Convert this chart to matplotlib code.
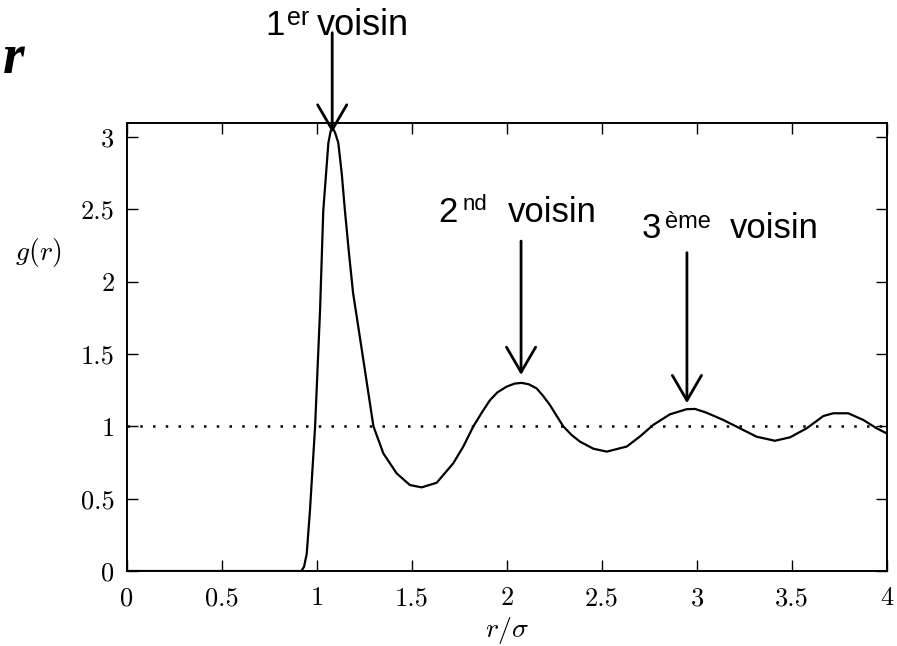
import matplotlib
matplotlib.use("Agg")
import matplotlib.pyplot as plt

# ---------------------------------------------------
# Data
# ---------------------------------------------------
r_vals = [0.0, 0.918, 0.932, 0.946, 0.963, 0.99, 1.016, 1.033, 1.06, 1.072,
          1.083, 1.095, 1.112, 1.13, 1.147, 1.168, 1.19, 1.21, 1.244, 1.297,
          1.349, 1.419, 1.489, 1.551, 1.63, 1.717, 1.77, 1.823, 1.87, 1.91,
          1.95, 1.998, 2.04, 2.077, 2.115, 2.156, 2.19, 2.226, 2.26, 2.296,
          2.34, 2.384, 2.455, 2.525, 2.63, 2.70, 2.77, 2.858, 2.945, 2.99,
          3.05, 3.138, 3.226, 3.314, 3.41, 3.49, 3.577, 3.665, 3.717, 3.796,
          3.875, 3.946, 4.0]
g_vals = [0.0, 0.0, 0.03, 0.12, 0.42, 1.0, 1.80, 2.49, 2.96, 3.04,
          3.06, 3.03, 2.96, 2.75, 2.49, 2.2, 1.92, 1.75, 1.458, 1.0,
          0.813, 0.675, 0.594, 0.578, 0.61, 0.744, 0.86, 1.0, 1.10, 1.18,
          1.235, 1.274, 1.295, 1.30, 1.29, 1.262, 1.21, 1.147, 1.075, 1.0,
          0.94, 0.894, 0.845, 0.825, 0.86, 0.93, 1.01, 1.083, 1.118, 1.12,
          1.094, 1.044, 0.986, 0.928, 0.90, 0.924, 0.986, 1.071, 1.09, 1.09,
          1.044, 0.986, 0.95]

ticks_x = [0, 0.5, 1, 1.5, 2, 2.5, 3, 3.5, 4]
ticks_x_labels = ["0", "0.5", "1", "1.5", "2", "2.5", "3", "3.5", "4"]
ticks_y = [0, 0.5, 1, 1.5, 2, 2.5, 3]
ticks_y_labels = ["0", "0.5", "1", "1.5", "2", "2.5", "3"]

# arrows: (tip r, tip g, tail r, tail g)
arrows = [
    (1.08, 3.03, 1.08, 3.72),
    (2.074, 1.355, 2.074, 2.28),
    (2.947, 1.16, 2.947, 2.20),
]

plt.rcParams["mathtext.fontset"] = "cm"

W, H = 897, 646
fig = plt.figure(figsize=(W / 100, H / 100), dpi=100)
ax = fig.add_axes([127 / W, (H - 571) / H, 760 / W, 448 / H])

ax.plot(r_vals, g_vals, color="black", lw=1.6)
ax.axhline(1, color="black", lw=1.8, linestyle=(0, (1, 4.1)))

ax.set_xlim(0, 4)
ax.set_ylim(0, 3.096)
ax.set_xticks(ticks_x)
ax.set_xticklabels(ticks_x_labels, fontfamily="cmr10", fontsize=19)
ax.set_yticks(ticks_y)
ax.set_yticklabels(ticks_y_labels, fontfamily="cmr10", fontsize=19)
ax.tick_params(direction="in", top=True, right=True, length=8, width=1)
ax.tick_params(axis="x", pad=11)
ax.tick_params(axis="y", pad=9)
for s in ax.spines.values():
    s.set_linewidth(1.4)

ax.set_xlabel(r"$r/\sigma$", fontsize=20)
ax.xaxis.set_label_coords(0.5, -0.098)
ax.set_ylabel(r"$g(r)$", fontsize=20, rotation=0, ha="center", va="center")
ax.yaxis.set_label_coords(-0.117, 0.71)

# ---------------------------------------------------
# Arrows and labels
# ---------------------------------------------------
for tx, ty, sx, sy in arrows:
    ax.annotate("", xy=(tx, ty), xytext=(sx, sy), annotation_clip=False,
                arrowprops=dict(arrowstyle="->, head_length=0.6, head_width=0.35",
                                lw=2, color="black", mutation_scale=30,
                                shrinkA=0, shrinkB=0))


def ftext(x, y, s, size, **kw):
    fig.text(x / W, 1 - y / H, s, fontsize=size, family="Liberation Sans",
             va="baseline", ha="left", **kw)


ftext(265, 35, "1", 25)
ftext(287, 25, "er", 18)
ftext(317, 35, "voisin", 26)

ftext(438, 222, "2", 25)
ftext(463, 210, "nd", 16)
ftext(508, 222, "voisin", 25)

ftext(642, 238, "3", 25)
ftext(665, 228, "ème", 17)
ftext(730, 238, "voisin", 25)

fig.text(3 / W, 1 - 73 / H, "r", fontsize=40, family="Liberation Serif",
         style="italic", weight="bold", va="baseline", ha="left")

fig.savefig("out.png", dpi=100)
